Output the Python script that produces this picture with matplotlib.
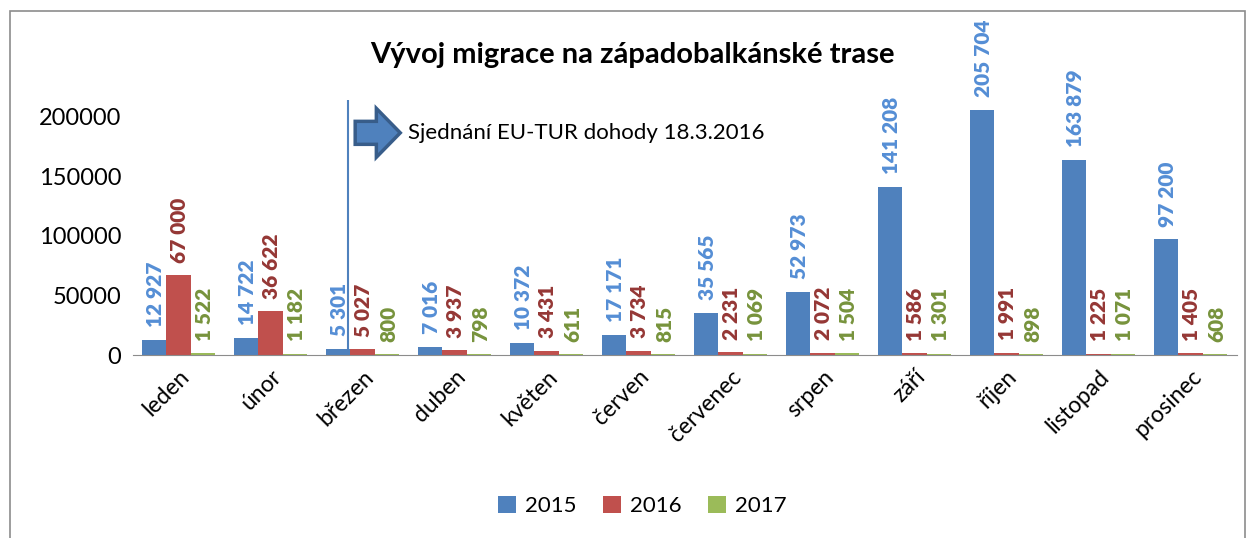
import numpy as np
import matplotlib
matplotlib.use("Agg")
import matplotlib.pyplot as plt
from matplotlib.patches import Rectangle, FancyArrow

plt.rcParams["font.family"] = ["Lato", "DejaVu Sans"]

mesice = ["leden", "únor", "březen", "duben", "květen", "červen",
          "červenec", "srpen", "září", "říjen", "listopad", "prosinec"]
roky = ["2015", "2016", "2017"]
v2015 = [12927, 14722, 5301, 7016, 10372, 17171, 35565, 52973, 141208, 205704, 163879, 97200]
v2016 = [67000, 36622, 5027, 3937, 3431, 3734, 2231, 2072, 1586, 1991, 1225, 1405]
v2017 = [1522, 1182, 800, 798, 611, 815, 1069, 1504, 1301, 898, 1071, 608]
yticks = [0, 50000, 100000, 150000, 200000]

C_BAR = ["#4F81BD", "#C0504D", "#9BBB59"]
C_LAB = ["#558ED5", "#953735", "#77933C"]

fig = plt.figure(figsize=(12.47, 5.38), dpi=100)
fig.patches.append(Rectangle((0.008, -0.01), 0.99, 0.99, transform=fig.transFigure,
                             fill=False, edgecolor="#8c8c8c", lw=1.2))
ax = fig.add_axes([0.1063, 0.340, 0.8853, 0.474])

x = np.arange(len(mesice))
w = 0.267
for i, (vals, c, lc) in enumerate(zip([v2015, v2016, v2017], C_BAR, C_LAB)):
    pos = x + (i - 1) * w
    ax.bar(pos, vals, width=w, color=c, label=roky[i], zorder=2)
    for xp, v in zip(pos, vals):
        ax.annotate(f"{v:,}".replace(",", " "), (xp, v), xytext=(1, 9),
                    textcoords="offset points", rotation=90, ha="center",
                    va="bottom", fontsize=15, fontweight="heavy", color=lc,
                    annotation_clip=False)

ax.set_xlim(-0.5, 11.5)
ax.set_ylim(0, 214000)
ax.set_yticks(yticks)
ax.set_yticklabels([str(t) for t in yticks], fontsize=17)
ax.set_xticks(x)
ax.set_xticklabels(mesice, fontsize=16.5, rotation=45, ha="right",
                   rotation_mode="anchor")
ax.tick_params(length=0, pad=8)
for s in ["top", "right", "left"]:
    ax.spines[s].set_visible(False)
ax.spines["bottom"].set_color("#8c8c8c")

# svislá čára - EU-TUR dohoda
ax.plot([1.84, 1.84], [0, 214000], color="#4F81BD", lw=1.5, zorder=3)
ax.add_patch(FancyArrow(1.92, 186500, 0.23, 0, width=19300, head_width=41000,
                        head_length=0.26, length_includes_head=False,
                        facecolor="#4F81BD", edgecolor="#385D8A", lw=2.5, zorder=4))
ax.text(2.49, 186500, "Sjednání EU-TUR dohody 18.3.2016", fontsize=16,
        va="center", ha="left", color="black")

fig.text(0.507, 0.898, "Vývoj migrace na západobalkánské trase", ha="center",
         va="center", fontsize=21, fontweight="bold")

fig.legend(loc="center", bbox_to_anchor=(0.515, 0.06), ncol=3, frameon=False,
           fontsize=16, handlelength=0.8, handleheight=0.8, columnspacing=1.2,
           handletextpad=0.4)

fig.savefig("out.png", dpi=100)
